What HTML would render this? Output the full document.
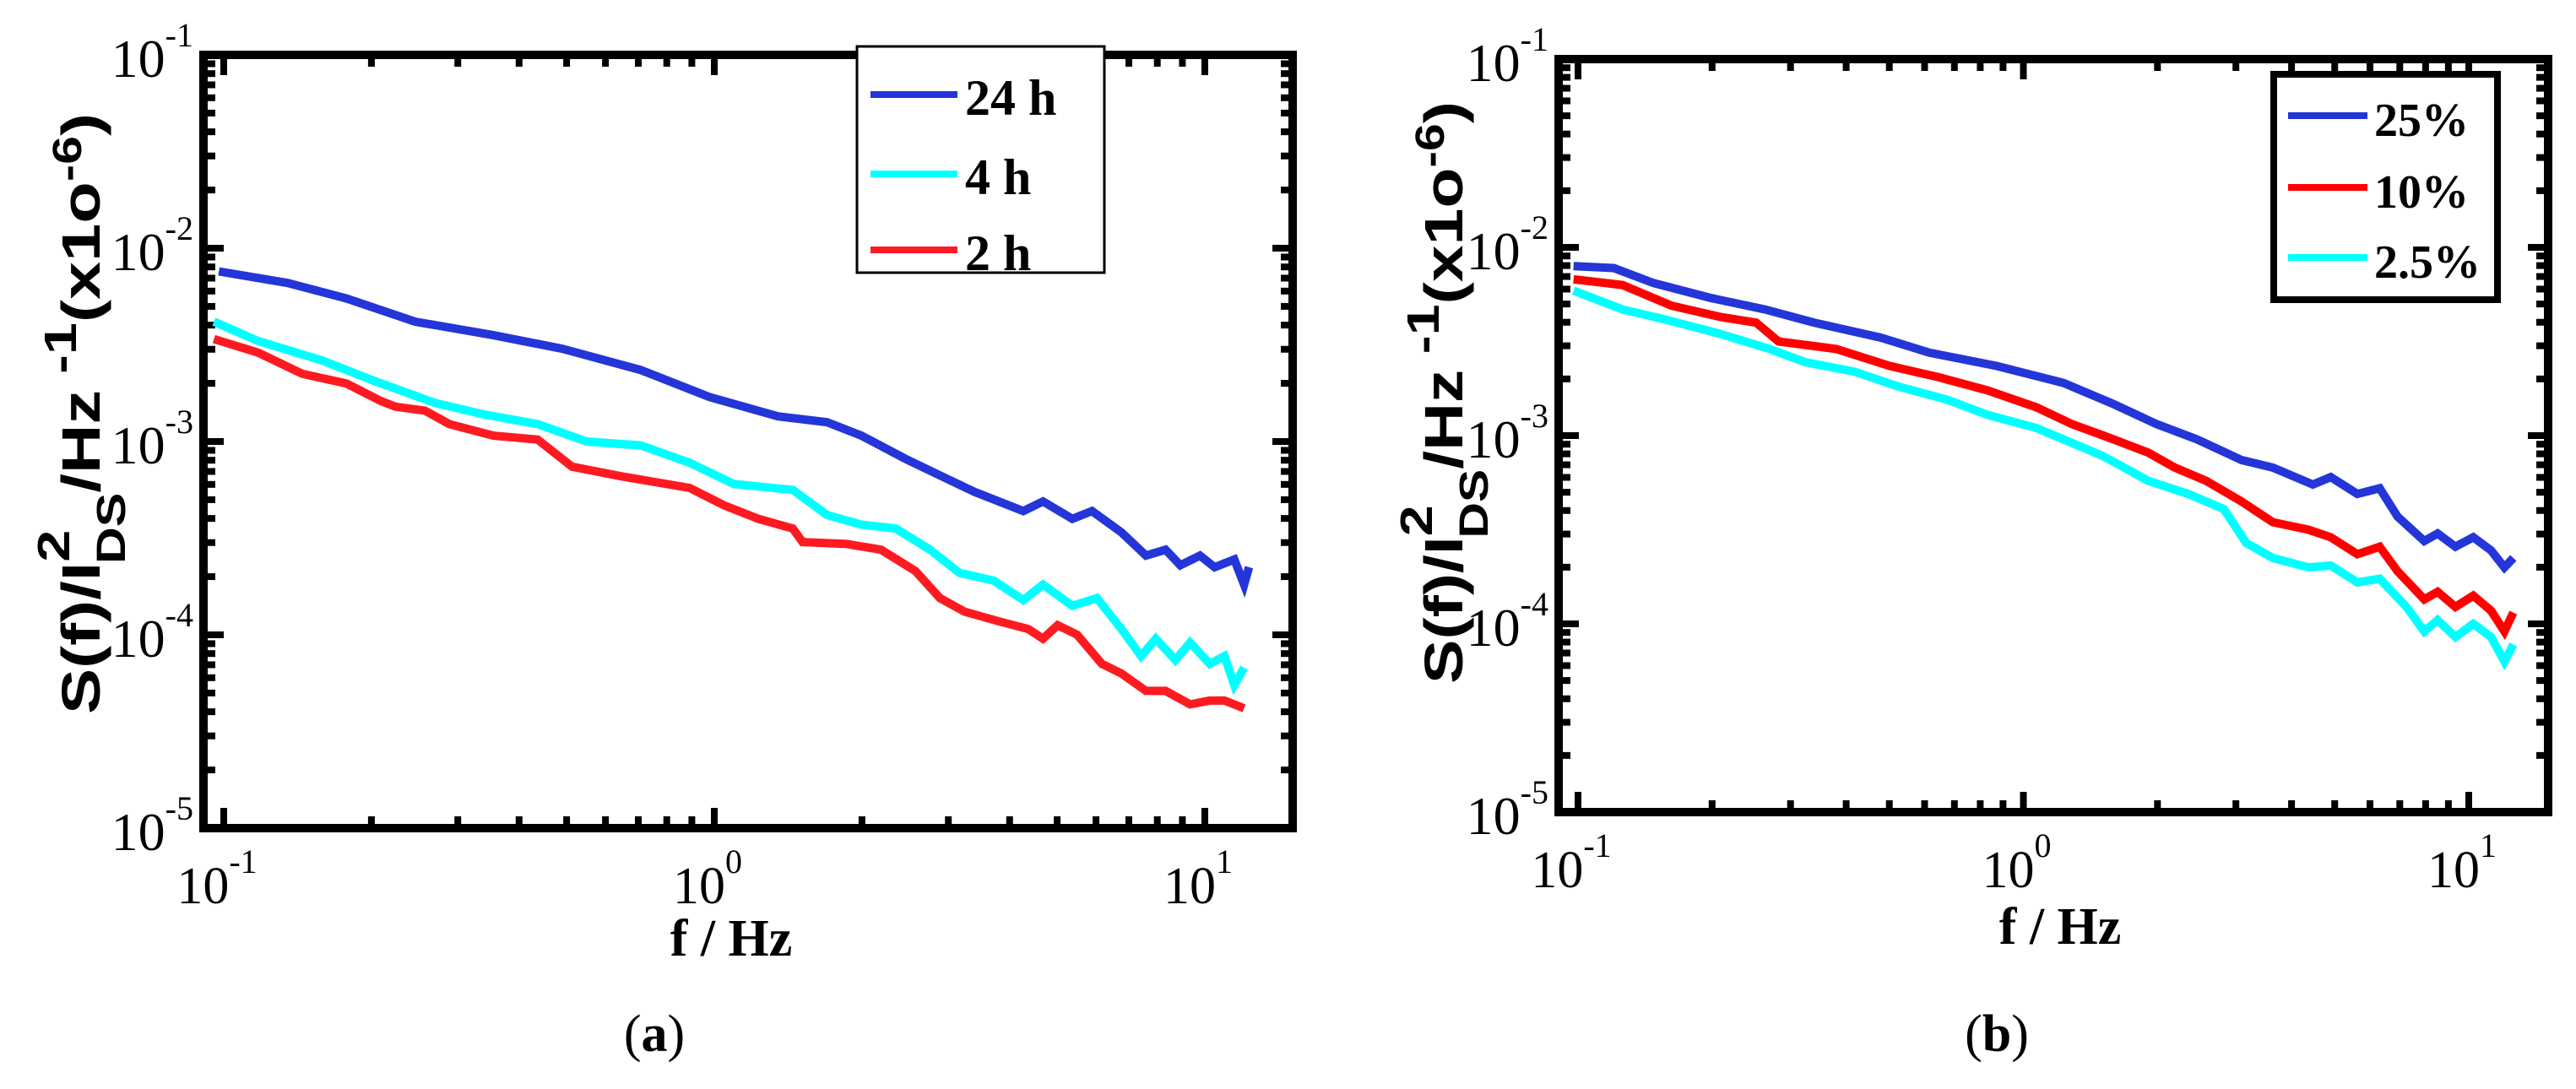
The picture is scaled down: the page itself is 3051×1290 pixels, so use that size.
<!DOCTYPE html>
<html><head><meta charset="utf-8"><style>
html,body{margin:0;padding:0;background:#fff;}
svg{display:block;}
</style></head><body>
<svg id="chart" width="3051" height="1290" viewBox="0 0 3051 1290" xmlns="http://www.w3.org/2000/svg"></svg>
<script>
// Panel (a) data: log10(f), log10(S)
const aSeriesNames = ["24 h","4 h","2 h"];
const aLogF24 = [-1.01,-0.87,-0.75,-0.61,-0.45,-0.31,-0.15,-0.01,0.13,0.23,0.30,0.39,0.48,0.53,0.63,0.67,0.73,0.77,0.83,0.88,0.92,0.95,0.99,1.02,1.06,1.08,1.09];
const aLogS24 = [-2.12,-2.18,-2.26,-2.38,-2.45,-2.52,-2.63,-2.77,-2.87,-2.90,-2.97,-3.09,-3.20,-3.26,-3.36,-3.31,-3.40,-3.36,-3.47,-3.59,-3.56,-3.64,-3.59,-3.65,-3.61,-3.74,-3.65];
const aLogF4 = [-1.02,-0.93,-0.80,-0.70,-0.57,-0.47,-0.36,-0.26,-0.15,-0.05,0.04,0.16,0.23,0.30,0.37,0.44,0.50,0.57,0.63,0.67,0.73,0.78,0.83,0.87,0.90,0.94,0.97,1.01,1.04,1.06,1.08];
const aLogS4 = [-2.38,-2.48,-2.58,-2.68,-2.80,-2.86,-2.91,-3.00,-3.02,-3.11,-3.22,-3.25,-3.38,-3.43,-3.45,-3.56,-3.68,-3.72,-3.82,-3.74,-3.85,-3.81,-3.97,-4.11,-4.02,-4.13,-4.04,-4.15,-4.11,-4.26,-4.17];
const aLogF2 = [-1.02,-0.93,-0.84,-0.75,-0.68,-0.65,-0.59,-0.54,-0.45,-0.36,-0.29,-0.19,-0.05,0.02,0.09,0.16,0.18,0.27,0.34,0.41,0.46,0.51,0.58,0.64,0.67,0.70,0.74,0.79,0.83,0.88,0.92,0.97,1.01,1.04,1.08];
const aLogS2 = [-2.47,-2.54,-2.65,-2.70,-2.79,-2.82,-2.84,-2.91,-2.97,-2.99,-3.13,-3.18,-3.24,-3.33,-3.40,-3.45,-3.52,-3.53,-3.56,-3.67,-3.81,-3.88,-3.93,-3.97,-4.02,-3.95,-4.00,-4.15,-4.20,-4.29,-4.29,-4.36,-4.34,-4.34,-4.38];
// Panel (b) data
const bSeriesNames = ["25%","10%","2.5%"];
const bLogF25 = [-1.01,-0.92,-0.83,-0.70,-0.58,-0.47,-0.32,-0.21,-0.06,0.09,0.20,0.30,0.39,0.49,0.56,0.65,0.69,0.75,0.80,0.84,0.90,0.93,0.97,1.01,1.05,1.08,1.10];
const bLogS25 = [-2.10,-2.11,-2.19,-2.27,-2.33,-2.40,-2.48,-2.56,-2.63,-2.72,-2.83,-2.94,-3.02,-3.13,-3.17,-3.26,-3.22,-3.31,-3.28,-3.43,-3.56,-3.52,-3.59,-3.54,-3.61,-3.70,-3.65];
const bLogF10 = [-1.01,-0.90,-0.79,-0.68,-0.60,-0.55,-0.42,-0.30,-0.19,-0.08,0.03,0.11,0.18,0.28,0.34,0.41,0.49,0.56,0.64,0.69,0.75,0.80,0.84,0.90,0.93,0.97,1.01,1.05,1.08,1.10];
const bLogS10 = [-2.17,-2.20,-2.31,-2.37,-2.40,-2.50,-2.54,-2.63,-2.69,-2.76,-2.85,-2.94,-3.00,-3.09,-3.17,-3.24,-3.35,-3.46,-3.50,-3.54,-3.63,-3.59,-3.72,-3.87,-3.83,-3.91,-3.85,-3.93,-4.04,-3.94];
const bLogF25b = [-1.01,-0.90,-0.81,-0.68,-0.57,-0.49,-0.38,-0.28,-0.17,-0.08,0.03,0.11,0.18,0.28,0.37,0.45,0.50,0.56,0.64,0.69,0.75,0.80,0.86,0.90,0.93,0.97,1.01,1.05,1.08,1.10];
const bLogS25b = [-2.23,-2.33,-2.38,-2.46,-2.54,-2.61,-2.66,-2.74,-2.81,-2.89,-2.96,-3.04,-3.11,-3.24,-3.31,-3.39,-3.57,-3.65,-3.70,-3.69,-3.78,-3.76,-3.91,-4.04,-3.98,-4.07,-4.00,-4.07,-4.20,-4.11];
const xTickExps = [-1,0,1];
const yTickExps = [-1,-2,-3,-4,-5];

const NS="http://www.w3.org/2000/svg";
const svg=document.getElementById('chart');
function mk(tag,attrs,parent){const e=document.createElementNS(NS,tag);for(const k in attrs)e.setAttribute(k,attrs[k]);(parent||svg).appendChild(e);return e;}

function panel(P){
  const g=mk('g',{});
  
  
  const sx=l=>P.x0+(l+1)*P.dec;
  const sy=l=>P.ytop+(-1-l)*P.ydec;
  const R=P.right, T=P.ytop, B=sy(-5);
  const tk=mk('g',{stroke:'#000','stroke-width':8},g);
  
  
  for(let d=-1;d<=1;d++){for(let m=1;m<=9;m++){const l=d+Math.log10(m);const x=sx(l);if(x<=P.left+4||x>=R-4)continue;const len=m===1?24:14;
    mk('line',{x1:x,x2:x,y1:B,y2:B-len},tk);mk('line',{x1:x,x2:x,y1:T,y2:T+len},tk);}}
  for(let d=-5;d<-1+0.01;d++){for(let m=1;m<=9;m++){const l=d+Math.log10(m);if(l>-1+1e-9)continue;const y=sy(l);if(y<=T+4||y>=B-4)continue;const len=m===1?24:14;
    mk('line',{x1:P.left,x2:P.left+len,y1:y,y2:y},tk);mk('line',{x1:R,x2:R-len,y1:y,y2:y},tk);}}
  P.series.forEach((s,i)=>{
    const pts=s.f.map((f,j)=>sx(f).toFixed(1)+','+sy(s.s[j]).toFixed(1)).join(' ');
    const pl=mk('polyline',{points:pts,fill:'none',stroke:s.c,'stroke-width':10,'stroke-linejoin':'miter'},g);
    
    
  });
  const fr=mk('rect',{x:P.left,y:T,width:R-P.left,height:B-T,fill:'none',stroke:'#000','stroke-width':10},g);
  
  
  xTickExps.forEach(e=>{
    const t=mk('text',{x:sx(e)-8,y:B+89,'text-anchor':'middle','font-size':62,'font-family':'Liberation Serif, serif'},g);
    
    
    t.textContent='10';
    const sp=mk('tspan',{dy:-36,'font-size':40},t);sp.textContent=String(e);
  });
  yTickExps.forEach(e=>{
    const t=mk('text',{x:P.left-12,y:sy(e)+26,'text-anchor':'end','font-size':64,'font-family':'Liberation Serif, serif'},g);
    
    
    t.textContent='10';
    const sp=mk('tspan',{dy:-36,'font-size':40},t);sp.textContent=String(e);
  });
  const xt=mk('text',{x:P.xlabX,y:P.xlabY,'text-anchor':'middle','font-size':62,'font-weight':'bold','font-family':'Liberation Serif, serif'},g);
  
  
  xt.textContent='f / Hz';
  const yt=mk('text',{transform:`translate(${P.ylabX},${P.ylabY}) rotate(-90)`,'text-anchor':'middle','font-size':64,'font-weight':'bold','font-family':'Liberation Sans, sans-serif',textLength:P.ylabLen,lengthAdjust:'spacingAndGlyphs'},g);
  
  
  yt.innerHTML='S(f)/I<tspan dy="-36" font-size="54">2</tspan><tspan dx="-32" dy="66" font-size="48">DS</tspan><tspan dy="-30">/Hz</tspan><tspan dy="-28" font-size="54"> -1</tspan><tspan dy="28">(x1o</tspan><tspan dy="-22" font-size="48">-6</tspan><tspan dy="22">)</tspan>';
  const lg=mk('g',{},g);
  
  
  mk('rect',{x:P.lg.x,y:P.lg.y,width:P.lg.w,height:P.lg.h,fill:'#fff',stroke:'#000','stroke-width':P.lg.sw},lg);
  P.series.slice().sort((a,b)=>a.li-b.li).forEach((s,i)=>{
    const y=P.lg.ys[i];
    const ln=mk('line',{x1:P.lg.lx1,x2:P.lg.lx2,y1:y,y2:y,stroke:s.c,'stroke-width':8},lg);
    
    
    const t=mk('text',{x:P.lg.tx,y:y+24,'font-size':P.lg.fs,'font-weight':'bold','font-family':'Liberation Serif, serif'},lg);
    
    
    t.textContent=s.n;
  });
  const cp=mk('text',{x:P.capX,y:1245,'text-anchor':'middle','font-size':62,'font-family':'Liberation Serif, serif'},g);
  
  
  cp.innerHTML='(<tspan font-weight="bold">'+P.cap+'</tspan>)';
}

panel({id:'panel-a',left:241,right:1531,x0:265,dec:581,ytop:65,ydec:229,
  series:[{n:aSeriesNames[0],f:aLogF24,s:aLogS24,c:'#2436d8',li:0},{n:aSeriesNames[1],f:aLogF4,s:aLogS4,c:'#00ffff',li:1},{n:aSeriesNames[2],f:aLogF2,s:aLogS2,c:'#ff1a22',li:2}],
  lg:{x:1015,y:55,w:293,h:268,sw:3,ys:[112,206,296],lx1:1031,lx2:1134,tx:1143,fs:60},
  xlabX:866,xlabY:1132,ylabX:118,ylabY:490,ylabLen:712,capX:775,cap:'a'});
panel({id:'panel-b',left:1846,right:3018,x0:1869,dec:527.5,ytop:70,ydec:223,
  series:[{n:bSeriesNames[0],f:bLogF25,s:bLogS25,c:'#2436d8',li:0},{n:bSeriesNames[1],f:bLogF10,s:bLogS10,c:'#ff0000',li:1},{n:bSeriesNames[2],f:bLogF25b,s:bLogS25b,c:'#00ffff',li:2}],
  lg:{x:2693,y:88,w:265,h:267,sw:8,ys:[137,222,305],lx1:2710,lx2:2804,tx:2812,fs:56},
  xlabX:2440,xlabY:1118,ylabX:1732,ylabY:465,ylabLen:690,capX:2365,cap:'b'});
</script>
</body></html>
